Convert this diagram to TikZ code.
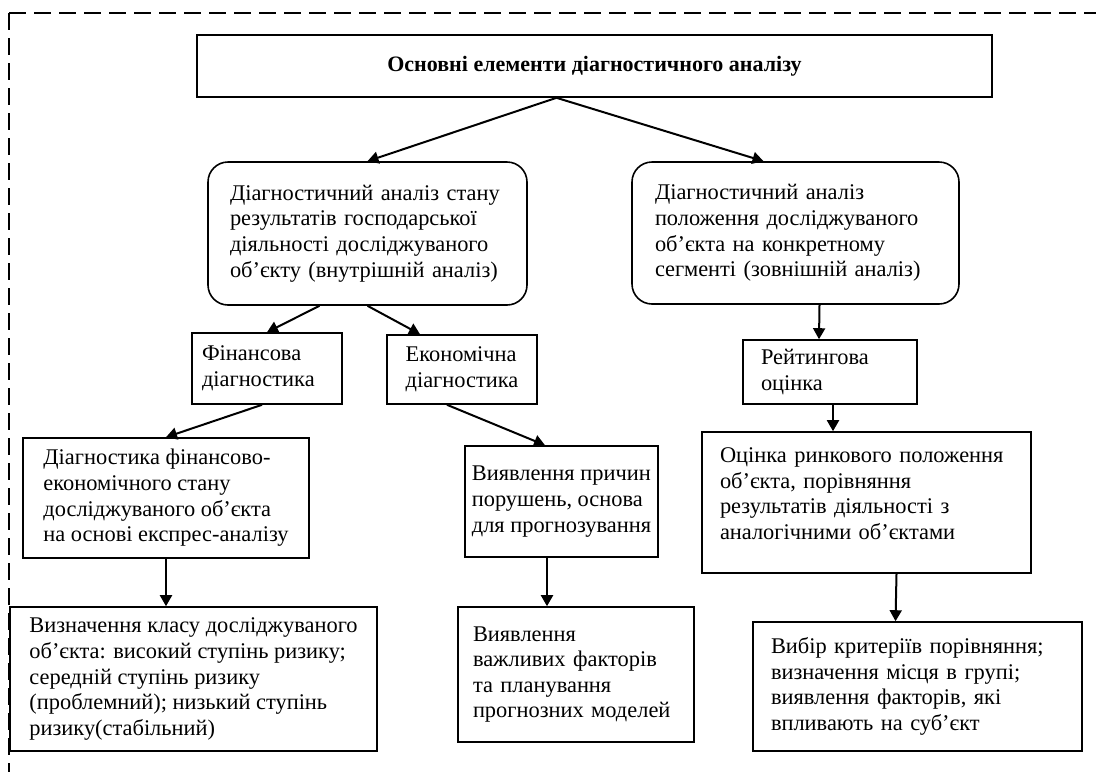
\documentclass[tikz,border=0pt]{standalone}
\usepackage{fontspec}
\setmainfont{Liberation Serif}
\usetikzlibrary{arrows.meta,calc}

\begin{document}
\begin{tikzpicture}[x=0.5pt,y=-0.5pt,font=\fontsize{11.2pt}{12.8pt}\selectfont,>={Triangle[length=5.5pt,width=6pt]},
  blk/.style={rectangle,draw=black,line width=0.8pt,align=left,inner ysep=2pt},
  rnd/.style={blk,rounded corners=10pt},
  ttl/.style={blk,align=center,font=\bfseries\fontsize{11pt}{13pt}\selectfont},
  ar/.style={->,line width=1pt,black},
  border/.style={line width=1pt,dash pattern=on 8.5pt off 4pt}]
\useasboundingbox (0,0) rectangle (1096,772);
% dashed frame (top and left only)
\coordinate (corner) at (9,13);
\draw[border] (corner) -- (1096,13) (corner) -- (9,772);
% level 0
\node[ttl,minimum width=397.5pt,minimum height=31pt] (top) at (594.5,66) {Основні елементи діагностичного аналізу};
% level 1
\node[rnd,text width=137.5pt,inner xsep=11pt,minimum height=71.5pt] (inner) at (367.5,233.5) {Діагностичний аналіз стану\\результатів господарської\\діяльності досліджуваного\\об’єкту (внутрішній аналіз)};
\node[rnd,text width=140.5pt,inner xsep=11.5pt,minimum height=71pt] (outer) at (795.5,233) {Діагностичний аналіз\\положення досліджуваного\\об’єкта на конкретному\\сегменті (зовнішній аналіз)};
% level 2
\node[blk,text width=65pt,inner xsep=5pt,minimum height=35.5pt] (fin) at (267,368.5) {Фінансова\\діагностика};
\node[blk,minimum width=75pt,minimum height=34.5pt] (econ) at (462,369.5) {Економічна\\діагностика};
\node[blk,text width=69pt,inner xsep=9pt,minimum height=32pt] (rate) at (830,372) {Рейтингова\\оцінка};
% level 3
\node[blk,minimum width=143pt,minimum height=60pt] (express) at (166,498) {Діагностика фінансово-\\економічного стану\\досліджуваного об’єкта\\на основі експрес-аналізу};
\node[blk,minimum width=95.5pt,minimum height=55.5pt] (causes) at (561.5,501.5) {Виявлення причин\\порушень, основа\\для прогнозування};
\node[blk,text width=146.5pt,inner xsep=9pt,minimum height=70.5pt] (market) at (866.5,502.5) {Оцінка ринкового положення\\об’єкта, порівняння\\результатів діяльності з\\аналогічними об’єктами\\[-4pt]\mbox{}};
% level 4
\node[blk,minimum width=183.5pt,minimum height=72pt] (riskclass) at (193.5,679) {Визначення класу досліджуваного\\об’єкта: високий ступінь ризику;\\середній ступінь ризику\\(проблемний); низький ступінь\\ризику(стабільний)};
\node[blk,text width=103pt,inner xsep=7.5pt,minimum height=67.5pt] (factors) at (576,674.5) {Виявлення\\важливих факторів\\та планування\\прогнозних моделей};
\node[blk,text width=146.5pt,inner xsep=9pt,minimum height=64.5pt] (criteria) at (917.5,686.5) {Вибір критеріїв порівняння;\\визначення місця в групі;\\виявлення факторів, які\\впливають на суб’єкт};
% connectors
\draw[ar] ($(top.south)+(-38,0)$) -- (inner.north);
\draw[ar] ($(top.south)+(-38,0)$) -- ($(outer.north)+(-32,0)$);
\draw[ar] ($(inner.south)+(-48,0)$) -- (fin.north);
\draw[ar] (inner.south) -- ($(econ.north)+(-42,0)$);
\draw[ar] ($(outer.south)+(24,0)$) -- ($(rate.north)+(-11,0)$);
\draw[ar] ($(rate.south)+(3,0)$) -- ($(market.north)+(-33.5,0)$);
\draw[ar] ($(fin.south)+(-5,0)$) -- (express.north);
\draw[ar] ($(econ.south)+(-15,0)$) -- ($(causes.north)+(-16.5,0)$);
\draw[ar] (express.south) -- ($(riskclass.north)+(-27.5,0)$);
\draw[ar] ($(causes.south)+(-14.5,0)$) -- ($(factors.north)+(-29,0)$);
\draw[ar] ($(market.south)+(30,0)$) -- ($(criteria.north)+(-22,0)$);
\end{tikzpicture}
\end{document}
